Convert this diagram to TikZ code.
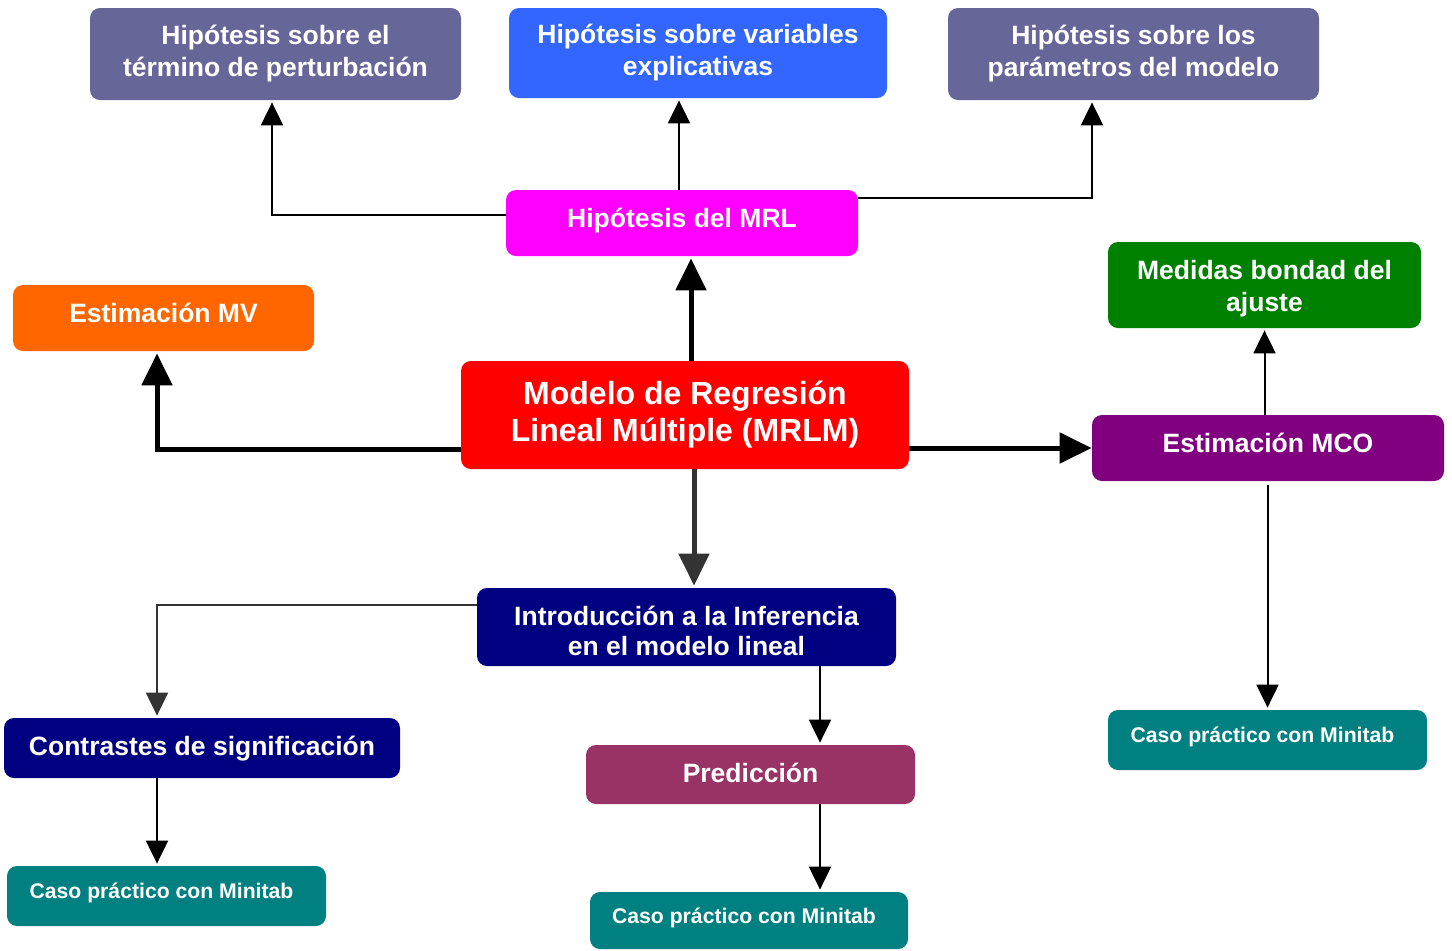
\documentclass[tikz,border=0pt]{standalone}
\usepackage{fontspec}
\setmainfont{Liberation Sans}
\usepackage{xcolor}
\usetikzlibrary{arrows.meta,calc}

\definecolor{hipgris}{HTML}{666699}
\definecolor{hipazul}{HTML}{3366FF}
\definecolor{mrlrosa}{HTML}{FF00FF}
\definecolor{mvnaranja}{HTML}{FF6600}
\definecolor{bondadverde}{HTML}{008000}
\definecolor{mrlmrojo}{HTML}{FF0000}
\definecolor{mcomorado}{HTML}{800080}
\definecolor{infmarino}{HTML}{000080}
\definecolor{predvino}{HTML}{993366}
\definecolor{casoteal}{HTML}{008080}
\definecolor{flechagris}{HTML}{333333}

\begin{document}
\begin{tikzpicture}[x=0.5pt,y=-0.5pt,
  caja/.style={rounded corners=5pt, inner sep=0pt, text=white, align=center,
    font=\bfseries\fontsize{13.25}{16}\selectfont},
  grande/.style={font=\bfseries\fontsize{16}{18.5}\selectfont},
  chico/.style={font=\bfseries\fontsize{10.6}{13}\selectfont, text height=8pt, text depth=5.4pt},
  alta/.style={text height=10pt, text depth=5.5pt},
  media/.style={text height=10pt, text depth=2.5pt},
  fina/.style={line width=1pt, -{Triangle[length=11.5pt,width=11pt]}, shorten >=1pt},
  gruesa/.style={line width=2.5pt, -{Triangle[length=16pt,width=15pt]}, shorten >=1pt}]
  \useasboundingbox (0,0) rectangle (1452,950);

  \node[caja, fill=hipgris, minimum width=185.5pt, minimum height=46pt] (hpert) at (275.5,54) {Hipótesis sobre el\\término de perturbación};
  \node[caja, fill=hipazul, minimum width=189pt, minimum height=45pt] (hvar) at (698,53) {Hipótesis sobre variables\\explicativas};
  \node[caja, fill=hipgris, minimum width=185.5pt, minimum height=46pt] (hpar) at (1133.5,54) {Hipótesis sobre los\\parámetros del modelo};
  \node[caja, alta, fill=mrlrosa, minimum width=176pt, minimum height=33pt] (hmrl) at (682,223) {Hipótesis del MRL};
  \node[caja, alta, fill=mvnaranja, minimum width=150.5pt, minimum height=33pt] (mv) at (163.5,318) {Estimación MV};
  \node[caja, fill=bondadverde, minimum width=156.5pt, minimum height=43pt] (bondad) at (1264.5,285) {\rule{0pt}{13pt}Medidas bondad del\\ajuste};
  \node[caja, grande, fill=mrlmrojo, minimum width=224pt, minimum height=54pt] (mrlm) at (685,415) {Modelo de Regresión\\Lineal Múltiple (MRLM)};
  \node[caja, alta, fill=mcomorado, minimum width=176pt, minimum height=33pt] (mco) at (1268,448) {Estimación MCO};
  \node[caja, fill=infmarino, minimum width=209.5pt, minimum height=39pt] (infer) at (686.5,627) {\rule{0pt}{14pt}Introducción a la Inferencia\\[-1pt]en el modelo lineal};
  \node[caja, media, fill=infmarino, minimum width=198pt, minimum height=30pt] (contr) at (202,748) {Contrastes de significación};
  \node[caja, media, fill=predvino, minimum width=164.5pt, minimum height=29.5pt] (pred) at (750.5,774.5) {Predicción};
  \node[caja, chico, fill=casoteal, minimum width=159.5pt, minimum height=30pt] (casomco) at (1267.5,740) {Caso práctico con Minitab\hspace{5pt}};
  \node[caja, chico, fill=casoteal, minimum width=159.5pt, minimum height=30pt] (casocontr) at (166.5,896) {Caso práctico con Minitab\hspace{5pt}};
  \node[caja, chico, fill=casoteal, minimum width=159pt, minimum height=28.5pt] (casopred) at (749,920.5) {Caso práctico con Minitab\hspace{5pt}};

  \draw[fina] ([yshift=4pt]hmrl.west) -| ([xshift=-1.75pt]hpert.south);
  \draw[fina] ([xshift=-1.5pt]hmrl.north) -- ([xshift=-1.5pt]hmrl.north |- hvar.south);
  \draw[fina] ([yshift=12.5pt]hmrl.east) -| ([xshift=-20.75pt]hpar.south);
  \draw[gruesa] ([xshift=3pt]mrlm.north) -- ([xshift=3pt]mrlm.north |- hmrl.south);
  \draw[gruesa] ([yshift=-17pt]mrlm.west) -| ([xshift=-3.25pt]mv.south);
  \draw[gruesa, shorten >=0pt] (mrlm.east |- mco.west) -- (mco.west);
  \draw[gruesa, flechagris] ([xshift=4.5pt]mrlm.south) -- ([xshift=4.5pt]mrlm.south |- infer.north);
  \draw[fina] (mco.north -| bondad.south) -- (bondad.south);
  \draw[fina] ([yshift=-2pt]mco.south -| casomco.north) -- (casomco.north);
  \draw[fina, flechagris] ([yshift=11pt]infer.west) -| ([xshift=-22.5pt]contr.north);
  \draw[fina] ([xshift=66.75pt]infer.south) -- ([xshift=66.75pt]infer.south |- pred.north);
  \draw[fina] ([xshift=-22.5pt]contr.south) -- ([xshift=-22.5pt]contr.south |- casocontr.north);
  \draw[fina] ([xshift=34.75pt]pred.south) -- ([xshift=34.75pt]pred.south |- casopred.north);
\end{tikzpicture}
\end{document}
